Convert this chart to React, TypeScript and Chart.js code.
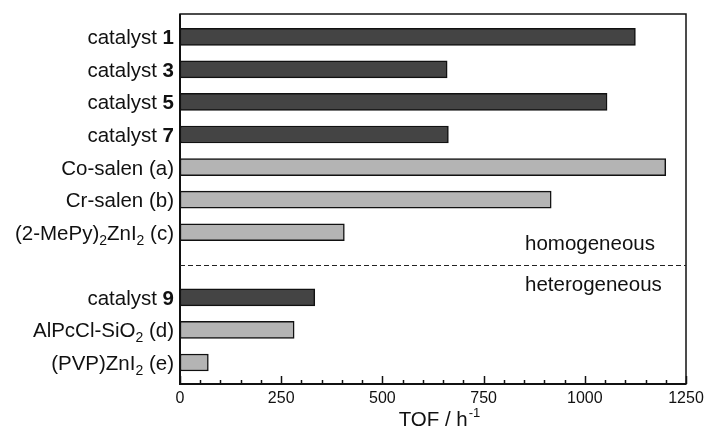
import React, { useEffect, useRef } from "react";
import { Chart, registerables } from "chart.js";

Chart.register(...registerables);

// Catalyst labels (markup: **bold**, _x = subscript character); "" is the spacer row
const catalysts = [
  "catalyst **1**",
  "catalyst **3**",
  "catalyst **5**",
  "catalyst **7**",
  "Co-salen (a)",
  "Cr-salen (b)",
  "(2-MePy)_2ZnI_2 (c)",
  "",
  "catalyst **9**",
  "AlPcCl-SiO_2 (d)",
  "(PVP)ZnI_2 (e)",
];

// Turnover frequency, h^-1
const tof: (number | null)[] = [1125, 660, 1055, 663, 1200, 917, 406, null, 333, 282, 70];

// "own" = catalysts from this work, "ref" = literature comparison
const kind = ["own", "own", "own", "own", "ref", "ref", "ref", "", "own", "ref", "ref"];

const xTicks = [0, 250, 500, 750, 1000, 1250];
const dividerIndex = 7;
const groupNames = ["homogeneous", "heterogeneous"];

const FONT = "'Liberation Sans', Arial, Helvetica, sans-serif";
const DARK = "#444444";
const LIGHT = "#b4b4b4";
const INK = "#111111";

type Seg = { text: string; bold: boolean; sub: boolean };

function parseLabel(s: string): Seg[] {
  const segs: Seg[] = [];
  let bold = false;
  let buf = "";
  const flush = () => {
    if (buf) segs.push({ text: buf, bold, sub: false });
    buf = "";
  };
  for (let i = 0; i < s.length; i++) {
    if (s.startsWith("**", i)) {
      flush();
      bold = !bold;
      i++;
    } else if (s[i] === "_" && i + 1 < s.length) {
      flush();
      segs.push({ text: s[i + 1], bold, sub: true });
      i++;
    } else {
      buf += s[i];
    }
  }
  flush();
  return segs;
}

const segFont = (seg: Seg) =>
  `${seg.bold ? "bold " : ""}${seg.sub ? 14 : 20.5}px ${FONT}`;

const decorations = {
  id: "decorations",
  afterDatasetsDraw(chart: any) {
    const { ctx, chartArea, scales } = chart;
    const xs = scales.x;
    const ys = scales.y;
    const { left, right, top, bottom } = chartArea;
    ctx.save();

    // inward tick marks on the x axis
    ctx.strokeStyle = INK;
    ctx.lineWidth = 1.5;
    for (let v = 0; v <= 1250; v += 50) {
      const x = Math.round(xs.getPixelForValue(v)) + 0.5;
      const len = v % 250 === 0 ? 8 : 4;
      ctx.beginPath();
      ctx.moveTo(x, bottom);
      ctx.lineTo(x, bottom - len);
      ctx.stroke();
    }

    // frame
    ctx.strokeStyle = INK;
    ctx.lineWidth = 1.5;
    ctx.strokeRect(left, top, right - left, bottom - top);
    ctx.lineWidth = 2;
    ctx.beginPath();
    ctx.moveTo(left, top);
    ctx.lineTo(left, bottom);
    ctx.lineTo(right, bottom);
    ctx.stroke();

    // divider between homogeneous and heterogeneous systems
    const yd = Math.round(ys.getPixelForValue(dividerIndex)) + 0.5;
    ctx.setLineDash([5, 3]);
    ctx.lineWidth = 1;
    ctx.strokeStyle = "#222";
    ctx.beginPath();
    ctx.moveTo(left, yd);
    ctx.lineTo(right, yd);
    ctx.stroke();
    ctx.setLineDash([]);

    ctx.fillStyle = INK;
    ctx.font = `20.5px ${FONT}`;
    ctx.textAlign = "left";
    ctx.textBaseline = "middle";
    ctx.fillText(groupNames[0], 525, yd - 21);
    ctx.fillText(groupNames[1], 525, yd + 20);

    // category labels
    catalysts.forEach((label, i) => {
      if (!label) return;
      const segs = parseLabel(label);
      let w = 0;
      segs.forEach((s) => {
        ctx.font = segFont(s);
        w += ctx.measureText(s.text).width;
      });
      let x = left - 6 - w;
      const y = ys.getPixelForValue(i);
      ctx.textAlign = "left";
      ctx.textBaseline = "alphabetic";
      segs.forEach((s) => {
        ctx.font = segFont(s);
        ctx.fillText(s.text, x, y + 7.5 + (s.sub ? 5 : 0));
        x += ctx.measureText(s.text).width;
      });
    });

    // axis title with superscript
    ctx.textBaseline = "alphabetic";
    ctx.font = `20.5px ${FONT}`;
    const main = "TOF / h";
    const sup = "-1";
    const mw = ctx.measureText(main).width;
    ctx.font = `13px ${FONT}`;
    const sw = ctx.measureText(sup).width;
    const cx = (left + right) / 2 + 6;
    const x0 = cx - (mw + sw) / 2;
    const base = 426;
    ctx.font = `20.5px ${FONT}`;
    ctx.fillText(main, x0, base);
    ctx.font = `13px ${FONT}`;
    ctx.fillText(sup, x0 + mw + 1, base - 9);

    ctx.restore();
  },
};

export default function App() {
  const canvasRef = useRef<HTMLCanvasElement | null>(null);

  useEffect(() => {
    const canvas = canvasRef.current;
    if (!canvas) return;

    const points: { x: number; y: number }[] = [];
    const fills: string[] = [];
    tof.forEach((v, i) => {
      if (v == null) return;
      points.push({ x: v, y: i });
      fills.push(kind[i] === "own" ? DARK : LIGHT);
    });

    const chart = new Chart(canvas, {
      type: "bar",
      data: {
        datasets: [
          {
            data: points as any,
            backgroundColor: fills,
            borderColor: INK,
            borderWidth: 1.5,
            borderSkipped: false,
            barThickness: 17,
          },
        ],
      },
      options: {
        indexAxis: "y",
        animation: false,
        responsive: false,
        maintainAspectRatio: false,
        devicePixelRatio: 1,
        layout: { padding: { top: 14, right: 19, left: 0, bottom: 0 } },
        plugins: {
          legend: { display: false },
          tooltip: { enabled: false },
          title: { display: false },
        },
        scales: {
          x: {
            type: "linear",
            position: "bottom",
            min: 0,
            max: 1250,
            afterBuildTicks: (s: any) => {
              s.ticks = xTicks.map((v) => ({ value: v }));
            },
            ticks: {
              color: INK,
              font: { family: FONT, size: 16 },
              padding: 5,
              maxRotation: 0,
              autoSkip: false,
              callback: (v: any) => String(v),
            },
            grid: { display: false, drawTicks: false },
            border: { display: false },
            afterFit: (s: any) => {
              s.height = 44;
              s.paddingLeft = 0;
              s.paddingRight = 0;
            },
          },
          y: {
            type: "linear",
            offset: false,
            min: -0.7,
            max: 10.66,
            reverse: true,
            ticks: { display: false },
            grid: { display: false, drawTicks: false, offset: false },
            border: { display: false },
            afterFit: (s: any) => {
              s.width = 180;
              s.paddingTop = 0;
              s.paddingBottom = 0;
            },
          },
        },
      },
      plugins: [decorations],
    });

    return () => chart.destroy();
  }, []);

  return (
    <div style={{ position: "fixed", left: 0, top: 0, width: 705, height: 428, background: "#fff" }}>
      <canvas ref={canvasRef} width={705} height={428} style={{ display: "block", width: 705, height: 428 }} />
    </div>
  );
}
